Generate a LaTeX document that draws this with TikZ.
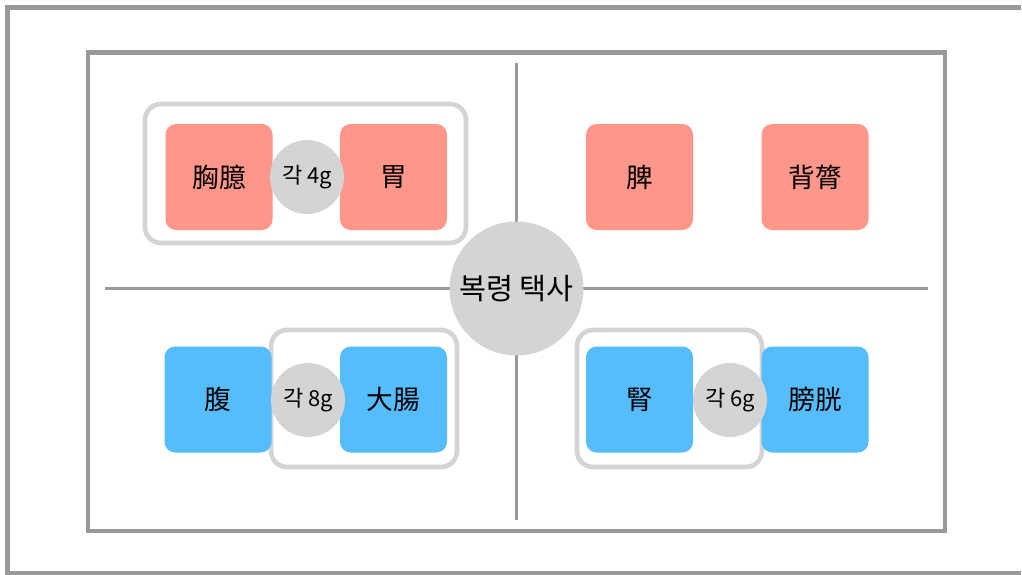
\documentclass[tikz,border=0pt]{standalone}
\usepackage{fontspec}
\newfontfamily\kr{Noto Sans CJK KR}
\definecolor{framegray}{HTML}{999999}
\definecolor{lightgray2}{HTML}{D4D4D4}
\definecolor{pinkbox}{HTML}{FF968A}
\definecolor{bluebox}{HTML}{56BDFD}
\tikzset{
  organ/.style={rounded corners=8, minimum width=107*0.75pt, minimum height=106*0.75pt, inner sep=0pt, font=\kr\fontsize{20}{21}\selectfont, text=black},
  pinkorgan/.style={organ, fill=pinkbox},
  blueorgan/.style={organ, fill=bluebox},
  dose/.style={circle, fill=lightgray2, minimum size=74*0.75pt, inner sep=0pt, font=\kr\fontsize{16.5}{17}\selectfont},
  group/.style={draw=lightgray2, line width=3.5, rounded corners=12},
  frame/.style={draw=framegray, line width=3.2},
  axis/.style={draw=framegray, line width=2.2}
}
\begin{document}
\begin{tikzpicture}[x=0.75pt,y=-0.75pt]
\useasboundingbox (0,0) rectangle (1022,575);
\fill[white] (0,0) rectangle (1022,575);
% outer frame (right edge lies outside the picture)
\draw[frame] (1021,7.5) -- (7.5,7.5) -- (7.5,573) -- (1021,573);
% inner frame
\draw[frame] (88,52.5) rectangle (945,531);
% cross lines
\coordinate (vt) at (516.5,63);
\coordinate (vb) at (516.5,520);
\coordinate (hl) at (105,288.5);
\coordinate (hr) at (928,288.5);
\draw[axis] (vt) -- (vb);
\draw[axis] (hl) -- (hr);
% groups
\draw[group] (145,104) rectangle (466,243);
\draw[group] (271,330) rectangle (457,467);
\draw[group] (577,330) rectangle (762,467);
% organ boxes
\node[pinkorgan] (xg) at (219,177) {胸臆};
\node[pinkorgan] (wei) at (393.5,177) {胃};
\node[pinkorgan] (pi) at (639.5,177) {脾};
\node[pinkorgan] (bl) at (815,177) {背膂};
\node[blueorgan] (fu) at (218,399.5) {腹};
\node[blueorgan] (dc) at (393.5,399.5) {大腸};
\node[blueorgan] (shen) at (639.5,399.5) {腎};
\node[blueorgan] (pg) at (815,399.5) {膀胱};
% dose circles
\node[dose] (d4) at (307,177) {각 4g};
\node[dose] (d8) at (308,400) {각 8g};
\node[dose] (d6) at (730,400) {각 6g};
% center
\node[circle, fill=lightgray2, minimum size=134*0.75pt, inner sep=0pt, font=\kr\fontsize{22}{23}\selectfont] (c) at (516.5,288.5) {복령 택사};
\end{tikzpicture}
\end{document}
